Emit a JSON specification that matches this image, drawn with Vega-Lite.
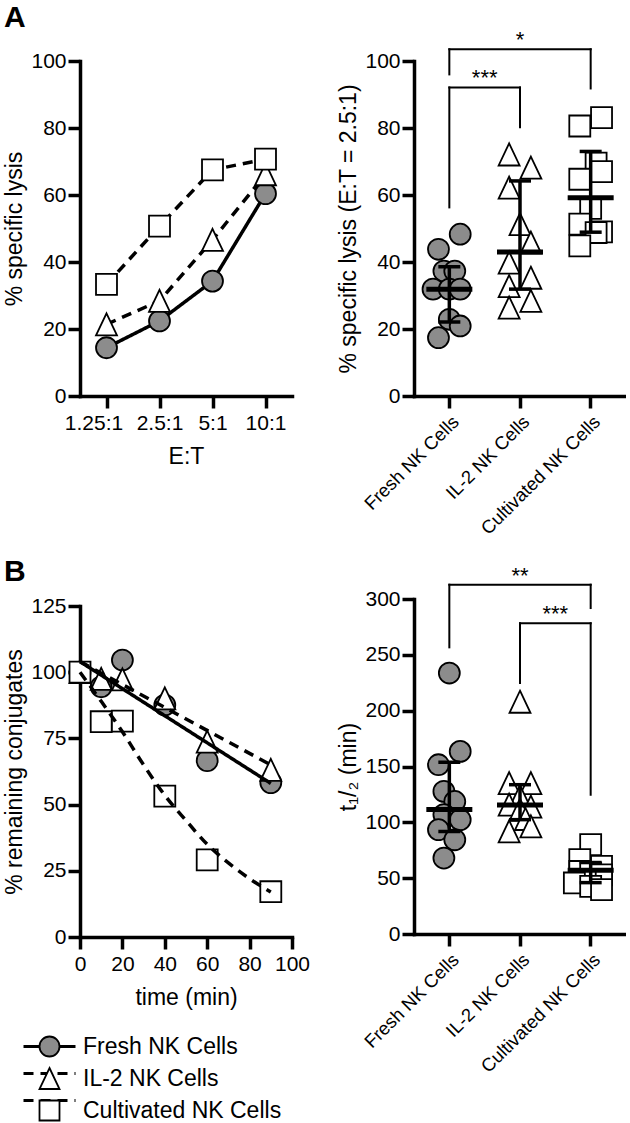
{
  "$schema": "https://vega.github.io/schema/vega-lite/v6.json",
  "padding": {"left": 3, "top": 3, "right": 0, "bottom": 0},
  "autosize": {"type": "pad"},
  "bounds": "flush",
  "columns": 2,
  "spacing": {"row": 203, "column": 122},
  "resolve": {
    "scale": {"color": "independent", "fill": "independent", "shape": "independent", "strokeDash": "independent"},
    "legend": {"color": "independent", "fill": "independent", "shape": "independent", "strokeDash": "independent"}
  },
  "datasets": {
    "lysisET": [
      {"series": "Fresh NK Cells", "ratio": "1.25:1", "value": 14.4},
      {"series": "Fresh NK Cells", "ratio": "2.5:1", "value": 22.4},
      {"series": "Fresh NK Cells", "ratio": "5:1", "value": 34.3},
      {"series": "Fresh NK Cells", "ratio": "10:1", "value": 60.4},
      {"series": "IL-2 NK Cells", "ratio": "1.25:1", "value": 21.4},
      {"series": "IL-2 NK Cells", "ratio": "2.5:1", "value": 28.4},
      {"series": "IL-2 NK Cells", "ratio": "5:1", "value": 46.6},
      {"series": "IL-2 NK Cells", "ratio": "10:1", "value": 66.2},
      {"series": "Cultivated NK Cells", "ratio": "1.25:1", "value": 33.3},
      {"series": "Cultivated NK Cells", "ratio": "2.5:1", "value": 50.7},
      {"series": "Cultivated NK Cells", "ratio": "5:1", "value": 67.5},
      {"series": "Cultivated NK Cells", "ratio": "10:1", "value": 70.7}
    ],
    "lysisScatter": [
      {"group": "Fresh NK Cells", "value": 48.3, "jitter": 2},
      {"group": "Fresh NK Cells", "value": 43.8, "jitter": -2},
      {"group": "Fresh NK Cells", "value": 37.3, "jitter": -1},
      {"group": "Fresh NK Cells", "value": 37.3, "jitter": 1},
      {"group": "Fresh NK Cells", "value": 31.9, "jitter": -3},
      {"group": "Fresh NK Cells", "value": 31.9, "jitter": 0},
      {"group": "Fresh NK Cells", "value": 31.9, "jitter": 2},
      {"group": "Fresh NK Cells", "value": 22.9, "jitter": 0},
      {"group": "Fresh NK Cells", "value": 20.9, "jitter": 2},
      {"group": "Fresh NK Cells", "value": 17.4, "jitter": -2},
      {"group": "IL-2 NK Cells", "value": 72.1, "jitter": -2},
      {"group": "IL-2 NK Cells", "value": 68.2, "jitter": 2},
      {"group": "IL-2 NK Cells", "value": 62.2, "jitter": -2},
      {"group": "IL-2 NK Cells", "value": 51.3, "jitter": 0},
      {"group": "IL-2 NK Cells", "value": 45.8, "jitter": 2},
      {"group": "IL-2 NK Cells", "value": 39.8, "jitter": -2},
      {"group": "IL-2 NK Cells", "value": 35.3, "jitter": 2},
      {"group": "IL-2 NK Cells", "value": 32.8, "jitter": -2},
      {"group": "IL-2 NK Cells", "value": 28.4, "jitter": 2},
      {"group": "IL-2 NK Cells", "value": 26.4, "jitter": -2},
      {"group": "Cultivated NK Cells", "value": 83.1, "jitter": 2},
      {"group": "Cultivated NK Cells", "value": 80.6, "jitter": -2},
      {"group": "Cultivated NK Cells", "value": 69.5, "jitter": 1},
      {"group": "Cultivated NK Cells", "value": 67.0, "jitter": 2},
      {"group": "Cultivated NK Cells", "value": 64.7, "jitter": -2},
      {"group": "Cultivated NK Cells", "value": 56.0, "jitter": 0},
      {"group": "Cultivated NK Cells", "value": 51.3, "jitter": -2},
      {"group": "Cultivated NK Cells", "value": 49.0, "jitter": 2},
      {"group": "Cultivated NK Cells", "value": 48.8, "jitter": 1},
      {"group": "Cultivated NK Cells", "value": 44.8, "jitter": -2}
    ],
    "lysisSummary": [
      {"group": "Fresh NK Cells", "median": 31.9, "lo": 22.1, "hi": 38.6},
      {"group": "IL-2 NK Cells", "median": 43.0, "lo": 31.9, "hi": 64.2},
      {"group": "Cultivated NK Cells", "median": 59.2, "lo": 48.9, "hi": 73.0}
    ],
    "lysisBrackets": [
      {"from": "Fresh NK Cells", "to": "IL-2 NK Cells", "mid": "Fresh NK Cells", "kind": "adj", "top": 92.1, "fromEnd": 56.3, "toEnd": 80.2, "label": "***"},
      {"from": "Fresh NK Cells", "to": "Cultivated NK Cells", "mid": "IL-2 NK Cells", "kind": "wide", "top": 103.5, "fromEnd": 96.0, "toEnd": 91.8, "label": "*"}
    ],
    "conj": [
      {"series": "Fresh NK Cells", "time": 0, "value": 100},
      {"series": "Fresh NK Cells", "time": 10, "value": 94.5},
      {"series": "Fresh NK Cells", "time": 20, "value": 104.6},
      {"series": "Fresh NK Cells", "time": 40, "value": 87.6},
      {"series": "Fresh NK Cells", "time": 60, "value": 66.6},
      {"series": "Fresh NK Cells", "time": 90, "value": 58.3},
      {"series": "IL-2 NK Cells", "time": 0, "value": 100},
      {"series": "IL-2 NK Cells", "time": 10, "value": 97.5},
      {"series": "IL-2 NK Cells", "time": 20, "value": 97.3},
      {"series": "IL-2 NK Cells", "time": 40, "value": 90.1},
      {"series": "IL-2 NK Cells", "time": 60, "value": 73.8},
      {"series": "IL-2 NK Cells", "time": 90, "value": 63.1},
      {"series": "Cultivated NK Cells", "time": 0, "value": 100},
      {"series": "Cultivated NK Cells", "time": 10, "value": 81.3},
      {"series": "Cultivated NK Cells", "time": 20, "value": 81.5},
      {"series": "Cultivated NK Cells", "time": 40, "value": 53.2},
      {"series": "Cultivated NK Cells", "time": 60, "value": 29.1},
      {"series": "Cultivated NK Cells", "time": 90, "value": 17.1}
    ],
    "conjFit": [
      {"curve": "Fresh NK Cells", "time": 0, "value": 104},
      {"curve": "Fresh NK Cells", "time": 90, "value": 58},
      {"curve": "IL-2 NK Cells", "time": 0, "value": 104},
      {"curve": "IL-2 NK Cells", "time": 90, "value": 65},
      {"curve": "Cultivated NK Cells", "time": 0, "value": 100},
      {"curve": "Cultivated NK Cells", "time": 10, "value": 89},
      {"curve": "Cultivated NK Cells", "time": 20, "value": 77.5},
      {"curve": "Cultivated NK Cells", "time": 30, "value": 65},
      {"curve": "Cultivated NK Cells", "time": 40, "value": 53.5},
      {"curve": "Cultivated NK Cells", "time": 50, "value": 44},
      {"curve": "Cultivated NK Cells", "time": 60, "value": 35},
      {"curve": "Cultivated NK Cells", "time": 70, "value": 28},
      {"curve": "Cultivated NK Cells", "time": 80, "value": 22},
      {"curve": "Cultivated NK Cells", "time": 90, "value": 17}
    ],
    "halfLife": [
      {"group": "Fresh NK Cells", "value": 233.7, "jitter": 0},
      {"group": "Fresh NK Cells", "value": 163.5, "jitter": 2},
      {"group": "Fresh NK Cells", "value": 151.6, "jitter": -2},
      {"group": "Fresh NK Cells", "value": 127.7, "jitter": -1},
      {"group": "Fresh NK Cells", "value": 118.7, "jitter": 1},
      {"group": "Fresh NK Cells", "value": 107.0, "jitter": -1},
      {"group": "Fresh NK Cells", "value": 102.3, "jitter": 2},
      {"group": "Fresh NK Cells", "value": 93.4, "jitter": -2},
      {"group": "Fresh NK Cells", "value": 84.4, "jitter": 1},
      {"group": "Fresh NK Cells", "value": 68.0, "jitter": -1},
      {"group": "IL-2 NK Cells", "value": 208.0, "jitter": 0},
      {"group": "IL-2 NK Cells", "value": 135.2, "jitter": -2},
      {"group": "IL-2 NK Cells", "value": 135.2, "jitter": 2},
      {"group": "IL-2 NK Cells", "value": 123.2, "jitter": 0},
      {"group": "IL-2 NK Cells", "value": 115.8, "jitter": -2},
      {"group": "IL-2 NK Cells", "value": 114.0, "jitter": 2},
      {"group": "IL-2 NK Cells", "value": 111.3, "jitter": 0},
      {"group": "IL-2 NK Cells", "value": 103.0, "jitter": 1},
      {"group": "IL-2 NK Cells", "value": 96.4, "jitter": 2},
      {"group": "IL-2 NK Cells", "value": 91.9, "jitter": -2},
      {"group": "Cultivated NK Cells", "value": 80.0, "jitter": 0},
      {"group": "Cultivated NK Cells", "value": 66.6, "jitter": -2},
      {"group": "Cultivated NK Cells", "value": 60.5, "jitter": 2},
      {"group": "Cultivated NK Cells", "value": 56.0, "jitter": -2},
      {"group": "Cultivated NK Cells", "value": 54.6, "jitter": 0},
      {"group": "Cultivated NK Cells", "value": 53.0, "jitter": 2},
      {"group": "Cultivated NK Cells", "value": 48.0, "jitter": -1},
      {"group": "Cultivated NK Cells", "value": 45.7, "jitter": -3},
      {"group": "Cultivated NK Cells", "value": 42.6, "jitter": 0},
      {"group": "Cultivated NK Cells", "value": 39.7, "jitter": 2}
    ],
    "halfSummary": [
      {"group": "Fresh NK Cells", "median": 111.5, "lo": 91.9, "hi": 153.7},
      {"group": "IL-2 NK Cells", "median": 115.5, "lo": 102.4, "hi": 133.7},
      {"group": "Cultivated NK Cells", "median": 57.0, "lo": 46.0, "hi": 64.0}
    ],
    "halfBrackets": [
      {"from": "Fresh NK Cells", "to": "Cultivated NK Cells", "mid": "IL-2 NK Cells", "kind": "wide", "top": 312.8, "fromEnd": 256.7, "toEnd": 291.9, "label": "**"},
      {"from": "IL-2 NK Cells", "to": "Cultivated NK Cells", "mid": "IL-2 NK Cells", "kind": "adj", "top": 278.3, "fromEnd": 224.8, "toEnd": 124.7, "label": "***"}
    ]
  },
  "concat": [
    {
      "width": 212,
      "height": 335,
      "title": {"text": "A", "anchor": "start", "frame": "bounds", "fontSize": 30, "fontWeight": "bold", "color": "black", "offset": 17},
      "data": {"name": "lysisET"},
      "layer": [
        {
          "mark": {"type": "line", "strokeWidth": 3.5, "color": "black"},
          "encoding": {
            "x": {"field": "ratio", "type": "nominal", "title": "E:T", "sort": ["1.25:1", "2.5:1", "5:1", "10:1"], "scale": {"domain": ["1.25:1", "2.5:1", "5:1", "10:1"], "paddingInner": 0, "paddingOuter": 0}, "axis": {"labelAngle": 0, "labelOffset": {"condition": {"test": "datum.value === '1.25:1'", "value": -13}, "value": 0}}},
            "y": {"field": "value", "type": "quantitative", "title": "% specific lysis", "scale": {"domain": [0, 100], "nice": false}, "axis": {"values": [0, 20, 40, 60, 80, 100]}},
            "strokeDash": {"field": "series", "type": "nominal", "scale": {"domain": ["Fresh NK Cells", "IL-2 NK Cells", "Cultivated NK Cells"], "range": [[1, 0], [10, 7], [10, 7]]}, "legend": null},
            "detail": {"field": "series"},
            "order": {"value": null}
          }
        },
        {
          "mark": {"type": "point", "filled": true, "size": 440, "stroke": "black", "strokeWidth": 1.8, "opacity": 1},
          "encoding": {
            "x": {"field": "ratio", "type": "nominal", "title": "E:T"},
            "y": {"field": "value", "type": "quantitative", "title": "% specific lysis"},
            "shape": {"field": "series", "type": "nominal", "scale": {"domain": ["Fresh NK Cells", "IL-2 NK Cells", "Cultivated NK Cells"], "range": ["circle", "M0,-1.05L1,1.05L-1,1.05Z", "square"]}, "legend": null},
            "fill": {"field": "series", "type": "nominal", "scale": {"domain": ["Fresh NK Cells", "IL-2 NK Cells", "Cultivated NK Cells"], "range": ["#8c8c8c", "white", "white"]}, "legend": null}
          }
        }
      ]
    },
    {
      "width": 212,
      "height": 335,
      "layer": [
        {
          "data": {"name": "lysisScatter"},
          "mark": {"type": "point", "filled": true, "size": 440, "stroke": "black", "strokeWidth": 1.8, "opacity": 1},
          "encoding": {
            "x": {"field": "group", "type": "nominal", "title": null, "scale": {"domain": ["Fresh NK Cells", "IL-2 NK Cells", "Cultivated NK Cells"], "paddingInner": 0, "paddingOuter": 0}, "axis": {"labelAngle": -45, "labelFontSize": 18.5}},
            "xOffset": {"field": "jitter", "type": "ordinal", "scale": {"domain": [-6, -5, -4, -3, -2, -1, 0, 1, 2, 3, 4, 5, 6]}},
            "y": {"field": "value", "type": "quantitative", "title": "% specific lysis (E:T = 2.5:1)", "scale": {"domain": [0, 100], "nice": false}, "axis": {"values": [0, 20, 40, 60, 80, 100]}},
            "shape": {"field": "group", "type": "nominal", "scale": {"domain": ["Fresh NK Cells", "IL-2 NK Cells", "Cultivated NK Cells"], "range": ["circle", "M0,-1.05L1,1.05L-1,1.05Z", "square"]}, "legend": null},
            "fill": {"field": "group", "type": "nominal", "scale": {"domain": ["Fresh NK Cells", "IL-2 NK Cells", "Cultivated NK Cells"], "range": ["#8c8c8c", "white", "white"]}, "legend": null}
          }
        },
        {
          "data": {"name": "lysisSummary"},
          "mark": {"type": "rule", "strokeWidth": 3.5, "color": "black"},
          "encoding": {
            "x": {"field": "group", "type": "nominal", "title": null},
            "y": {"field": "lo", "type": "quantitative", "title": "% specific lysis (E:T = 2.5:1)"},
            "y2": {"field": "hi"}
          }
        },
        {
          "data": {"name": "lysisSummary"},
          "mark": {"type": "tick", "size": 46, "thickness": 5, "color": "black", "opacity": 1},
          "encoding": {
            "x": {"field": "group", "type": "nominal", "title": null},
            "y": {"field": "median", "type": "quantitative", "title": "% specific lysis (E:T = 2.5:1)"}
          }
        },
        {
          "data": {"name": "lysisSummary"},
          "mark": {"type": "tick", "size": 22, "thickness": 3.5, "color": "black", "opacity": 1},
          "encoding": {
            "x": {"field": "group", "type": "nominal", "title": null},
            "y": {"field": "lo", "type": "quantitative", "title": "% specific lysis (E:T = 2.5:1)"}
          }
        },
        {
          "data": {"name": "lysisSummary"},
          "mark": {"type": "tick", "size": 22, "thickness": 3.5, "color": "black", "opacity": 1},
          "encoding": {
            "x": {"field": "group", "type": "nominal", "title": null},
            "y": {"field": "hi", "type": "quantitative", "title": "% specific lysis (E:T = 2.5:1)"}
          }
        },
        {
          "data": {"name": "lysisBrackets"},
          "mark": {"type": "rule", "strokeWidth": 2, "color": "black", "strokeCap": "square"},
          "encoding": {
            "x": {"field": "from", "type": "nominal", "title": null},
            "x2": {"field": "to"},
            "y": {"field": "top", "type": "quantitative", "title": "% specific lysis (E:T = 2.5:1)"}
          }
        },
        {
          "data": {"name": "lysisBrackets"},
          "mark": {"type": "rule", "strokeWidth": 2, "color": "black", "strokeCap": "square"},
          "encoding": {
            "x": {"field": "from", "type": "nominal", "title": null},
            "y": {"field": "fromEnd", "type": "quantitative", "title": "% specific lysis (E:T = 2.5:1)"},
            "y2": {"field": "top"}
          }
        },
        {
          "data": {"name": "lysisBrackets"},
          "mark": {"type": "rule", "strokeWidth": 2, "color": "black", "strokeCap": "square"},
          "encoding": {
            "x": {"field": "to", "type": "nominal", "title": null},
            "y": {"field": "toEnd", "type": "quantitative", "title": "% specific lysis (E:T = 2.5:1)"},
            "y2": {"field": "top"}
          }
        },
        {
          "data": {"name": "lysisBrackets"},
          "transform": [{"filter": {"field": "kind", "equal": "adj"}}],
          "mark": {"type": "text", "fontSize": 22, "baseline": "alphabetic", "dy": -2, "color": "black"},
          "encoding": {
            "x": {"field": "from", "type": "nominal", "bandPosition": 1, "title": null},
            "y": {"field": "top", "type": "quantitative", "title": "% specific lysis (E:T = 2.5:1)"},
            "text": {"field": "label"}
          }
        },
        {
          "data": {"name": "lysisBrackets"},
          "transform": [{"filter": {"field": "kind", "equal": "wide"}}],
          "mark": {"type": "text", "fontSize": 22, "baseline": "alphabetic", "dy": -2, "color": "black"},
          "encoding": {
            "x": {"field": "mid", "type": "nominal", "title": null},
            "y": {"field": "top", "type": "quantitative", "title": "% specific lysis (E:T = 2.5:1)"},
            "text": {"field": "label"}
          }
        }
      ]
    },
    {
      "width": 212,
      "height": 338,
      "title": {"text": "B", "anchor": "start", "frame": "bounds", "fontSize": 30, "fontWeight": "bold", "color": "black", "offset": 8},
      "layer": [
        {
          "data": {"name": "conj"},
          "mark": {"type": "point", "filled": true, "size": 440, "stroke": "black", "strokeWidth": 1.8, "opacity": 1},
          "encoding": {
            "x": {"field": "time", "type": "quantitative", "title": "time (min)", "scale": {"domain": [0, 100], "nice": false}, "axis": {"values": [0, 20, 40, 60, 80, 100]}},
            "y": {"field": "value", "type": "quantitative", "title": "% remaining conjugates", "scale": {"domain": [0, 125], "nice": false, "range": [338, 7]}, "axis": {"values": [0, 25, 50, 75, 100, 125]}},
            "color": {"field": "series", "type": "nominal", "scale": {"domain": ["Fresh NK Cells", "IL-2 NK Cells", "Cultivated NK Cells"], "range": ["#8c8c8c", "white", "white"]},
              "legend": {"orient": "none", "legendX": -42, "legendY": 436, "title": null, "symbolSize": 400, "symbolStrokeWidth": 1.8, "labelFontSize": 23, "labelColor": "black", "labelOffset": 22, "rowPadding": 3, "padding": 0, "labelLimit": 400, "zindex": 2}},
            "shape": {"field": "series", "type": "nominal", "scale": {"domain": ["Fresh NK Cells", "IL-2 NK Cells", "Cultivated NK Cells"], "range": ["circle", "M0,-1.05L1,1.05L-1,1.05Z", "square"]},
              "legend": {"orient": "none", "legendX": -42, "legendY": 436, "title": null, "symbolSize": 400, "symbolStrokeWidth": 1.8, "labelFontSize": 23, "labelColor": "black", "labelOffset": 22, "rowPadding": 3, "padding": 0, "labelLimit": 400, "zindex": 2}}
          }
        },
        {
          "data": {"name": "conjFit"},
          "mark": {"type": "line", "strokeWidth": 3.5, "color": "black", "interpolate": "monotone"},
          "encoding": {
            "x": {"field": "time", "type": "quantitative", "title": "time (min)"},
            "y": {"field": "value", "type": "quantitative", "title": "% remaining conjugates"},
            "strokeDash": {"field": "curve", "type": "nominal", "sort": ["Fresh NK Cells", "IL-2 NK Cells", "Cultivated NK Cells"], "scale": {"range": [[1, 0], [10, 7], [10, 7]]},
              "legend": {"orient": "none", "legendX": -42, "legendY": 436, "title": null, "symbolType": "M-2.6,0L2.6,0", "symbolSize": 400, "symbolStrokeWidth": 3, "symbolStrokeColor": "black", "labelFontSize": 23, "labelExpr": "' '", "labelOffset": 22, "rowPadding": 3, "padding": 0, "labelLimit": 400, "zindex": 1}}
          }
        }
      ]
    },
    {
      "width": 212,
      "height": 335,
      "layer": [
        {
          "data": {"name": "halfLife"},
          "mark": {"type": "point", "filled": true, "size": 440, "stroke": "black", "strokeWidth": 1.8, "opacity": 1},
          "encoding": {
            "x": {"field": "group", "type": "nominal", "title": null, "scale": {"domain": ["Fresh NK Cells", "IL-2 NK Cells", "Cultivated NK Cells"], "paddingInner": 0, "paddingOuter": 0}, "axis": {"labelAngle": -45, "labelFontSize": 18.5}},
            "xOffset": {"field": "jitter", "type": "ordinal", "scale": {"domain": [-6, -5, -4, -3, -2, -1, 0, 1, 2, 3, 4, 5, 6]}},
            "y": {"field": "value", "type": "quantitative", "title": "t₁/₂ (min)", "scale": {"domain": [0, 300], "nice": false}, "axis": {"values": [0, 50, 100, 150, 200, 250, 300]}},
            "shape": {"field": "group", "type": "nominal", "scale": {"domain": ["Fresh NK Cells", "IL-2 NK Cells", "Cultivated NK Cells"], "range": ["circle", "M0,-1.05L1,1.05L-1,1.05Z", "square"]}, "legend": null},
            "fill": {"field": "group", "type": "nominal", "scale": {"domain": ["Fresh NK Cells", "IL-2 NK Cells", "Cultivated NK Cells"], "range": ["#8c8c8c", "white", "white"]}, "legend": null}
          }
        },
        {
          "data": {"name": "halfSummary"},
          "mark": {"type": "rule", "strokeWidth": 3.5, "color": "black"},
          "encoding": {
            "x": {"field": "group", "type": "nominal", "title": null},
            "y": {"field": "lo", "type": "quantitative", "title": "t₁/₂ (min)"},
            "y2": {"field": "hi"}
          }
        },
        {
          "data": {"name": "halfSummary"},
          "mark": {"type": "tick", "size": 46, "thickness": 5, "color": "black", "opacity": 1},
          "encoding": {
            "x": {"field": "group", "type": "nominal", "title": null},
            "y": {"field": "median", "type": "quantitative", "title": "t₁/₂ (min)"}
          }
        },
        {
          "data": {"name": "halfSummary"},
          "mark": {"type": "tick", "size": 22, "thickness": 3.5, "color": "black", "opacity": 1},
          "encoding": {
            "x": {"field": "group", "type": "nominal", "title": null},
            "y": {"field": "lo", "type": "quantitative", "title": "t₁/₂ (min)"}
          }
        },
        {
          "data": {"name": "halfSummary"},
          "mark": {"type": "tick", "size": 22, "thickness": 3.5, "color": "black", "opacity": 1},
          "encoding": {
            "x": {"field": "group", "type": "nominal", "title": null},
            "y": {"field": "hi", "type": "quantitative", "title": "t₁/₂ (min)"}
          }
        },
        {
          "data": {"name": "halfBrackets"},
          "mark": {"type": "rule", "strokeWidth": 2, "color": "black", "strokeCap": "square"},
          "encoding": {
            "x": {"field": "from", "type": "nominal", "title": null},
            "x2": {"field": "to"},
            "y": {"field": "top", "type": "quantitative", "title": "t₁/₂ (min)"}
          }
        },
        {
          "data": {"name": "halfBrackets"},
          "mark": {"type": "rule", "strokeWidth": 2, "color": "black", "strokeCap": "square"},
          "encoding": {
            "x": {"field": "from", "type": "nominal", "title": null},
            "y": {"field": "fromEnd", "type": "quantitative", "title": "t₁/₂ (min)"},
            "y2": {"field": "top"}
          }
        },
        {
          "data": {"name": "halfBrackets"},
          "mark": {"type": "rule", "strokeWidth": 2, "color": "black", "strokeCap": "square"},
          "encoding": {
            "x": {"field": "to", "type": "nominal", "title": null},
            "y": {"field": "toEnd", "type": "quantitative", "title": "t₁/₂ (min)"},
            "y2": {"field": "top"}
          }
        },
        {
          "data": {"name": "halfBrackets"},
          "transform": [{"filter": {"field": "kind", "equal": "adj"}}],
          "mark": {"type": "text", "fontSize": 22, "baseline": "alphabetic", "dy": -2, "color": "black"},
          "encoding": {
            "x": {"field": "from", "type": "nominal", "bandPosition": 1, "title": null},
            "y": {"field": "top", "type": "quantitative", "title": "t₁/₂ (min)"},
            "text": {"field": "label"}
          }
        },
        {
          "data": {"name": "halfBrackets"},
          "transform": [{"filter": {"field": "kind", "equal": "wide"}}],
          "mark": {"type": "text", "fontSize": 22, "baseline": "alphabetic", "dy": -2, "color": "black"},
          "encoding": {
            "x": {"field": "mid", "type": "nominal", "title": null},
            "y": {"field": "top", "type": "quantitative", "title": "t₁/₂ (min)"},
            "text": {"field": "label"}
          }
        }
      ]
    }
  ],
  "config": {
    "font": "Liberation Sans",
    "view": {"stroke": null},
    "axis": {
      "domainColor": "black", "domainWidth": 3.5, "domainCap": "square",
      "tickColor": "black", "tickWidth": 3.5, "tickSize": 12,
      "labelColor": "black", "labelFontSize": 21, "labelPadding": 2, "labelOverlap": false, "labelFlush": false,
      "titleColor": "black", "titleFontSize": 23, "titleFontWeight": "normal", "titlePadding": 4,
      "grid": false
    },
    "axisX": {"labelPadding": 4, "titlePadding": 12},
    "legend": {"labelFont": "Liberation Sans"}
  }
}
